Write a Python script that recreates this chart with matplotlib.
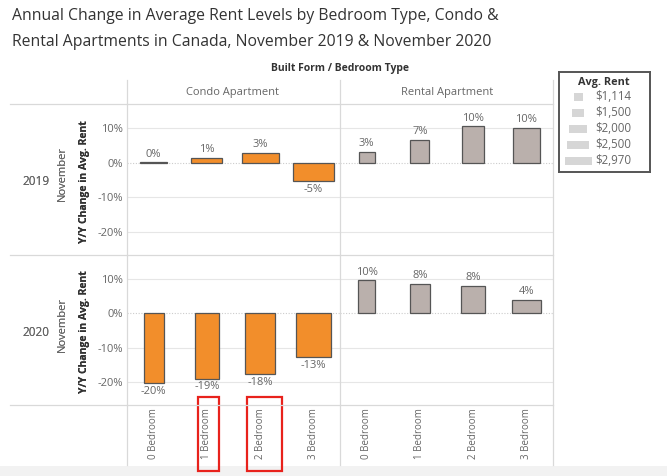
import matplotlib.pyplot as plt
from matplotlib.patches import Rectangle

plt.rcParams['font.family'] = ['Open Sans', 'DejaVu Sans']

# data
bedrooms = ["0 Bedroom", "1 Bedroom", "2 Bedroom", "3 Bedroom"]
built_forms = ["Condo Apartment", "Rental Apartment"]
years = ["2019", "2020"]

condo_2019 = [0.1, 1.3, 2.8, -5.4]
condo_2020 = [-20.4, -19.0, -17.8, -12.7]
rental_2019 = [3.2, 6.7, 10.5, 10.1]
rental_2020 = [9.6, 8.5, 7.9, 4.0]

rent_condo_2019 = [1930, 2230, 2670, 2970]
rent_condo_2020 = [1410, 1760, 2200, 2520]
rent_rental_2019 = [1114, 1340, 1610, 1930]
rent_rental_2020 = [1190, 1460, 1710, 2060]

legend_rents = [1114, 1500, 2000, 2500, 2970]
legend_labels = ["$1,114", "$1,500", "$2,000", "$2,500", "$2,970"]

yticks = [10, 0, -10, -20]

W, H = 667, 476
fig = plt.figure(figsize=(W / 100, H / 100), dpi=100)
fig.patch.set_facecolor("white")


def px_axes(x0, y0, x1, y1):
    return fig.add_axes([x0 / W, 1 - y1 / H, (x1 - x0) / W, (y1 - y0) / H])


def fx(x):
    return x / W


def fy(y):
    return 1 - y / H


def bar_width(rent):
    # Tableau size encoding, 16px..41px for $1,114..$2,970, panel cat = 53.25px
    px = 16 + (rent - 1114) / (2970 - 1114) * 25
    return px / 53.25


grid_c = "#e6e6e6"
line_c = "#d9d9d9"
text_c = "#666666"
orange = "#f28e2b"
grey = "#bab0ac"

# bottom strip
fig.add_artist(Rectangle((0, 0), 1, (H - 466) / H, transform=fig.transFigure,
                         facecolor="#f2f2f2", edgecolor="none", zorder=-10))

# title
fig.text(fx(12), fy(16), "Annual Change in Average Rent Levels by Bedroom Type, Condo &",
         fontsize=11.3, color="#333333", va="center")
fig.text(fx(12), fy(42), "Rental Apartments in Canada, November 2019 & November 2020",
         fontsize=11.3, color="#333333", va="center")

fig.text(fx(340), fy(69), "Built Form / Bedroom Type", fontsize=7.5, fontweight="bold",
         color="#333333", ha="center", va="center")
fig.text(fx(233), fy(93), built_forms[0], fontsize=8, color=text_c, ha="center", va="center")
fig.text(fx(447), fy(93), built_forms[1], fontsize=8, color=text_c, ha="center", va="center")

# frame lines
for y in [104, 255, 405]:
    fig.add_artist(plt.Line2D([fx(10), fx(553)], [fy(y), fy(y)], color=line_c, lw=0.9))
fig.add_artist(plt.Line2D([fx(127), fx(127)], [fy(80), fy(465)], color=line_c, lw=0.9))
fig.add_artist(plt.Line2D([fx(340), fx(340)], [fy(80), fy(465)], color=line_c, lw=0.9))
fig.add_artist(plt.Line2D([fx(553), fx(553)], [fy(80), fy(465)], color=line_c, lw=0.9))

panels = {
    (0, 0): (condo_2019, rent_condo_2019, orange),
    (0, 1): (rental_2019, rent_rental_2019, grey),
    (1, 0): (condo_2020, rent_condo_2020, orange),
    (1, 1): (rental_2020, rent_rental_2020, grey),
}
rows_px = [(104, 255), (255, 405)]
cols_px = [(127, 340), (340, 553)]

for (r, c), (vals, rents, color) in panels.items():
    y0, y1 = rows_px[r]
    x0, x1 = cols_px[c]
    ax = px_axes(x0, y0, x1, y1)
    ax.set_xlim(-0.5, 3.5)
    ax.set_ylim(-26.7, 17)
    ax.patch.set_alpha(0)
    for s in ax.spines.values():
        s.set_visible(False)
    for t in [10, -10, -20]:
        ax.axhline(t, color=grid_c, lw=0.8, zorder=0)
    ax.axhline(0, color="#cccccc", lw=0.8, ls=(0, (1, 1.5)), zorder=0)
    xs = range(len(vals))
    widths = [bar_width(v) for v in rents]
    ax.bar(xs, vals, width=widths, color=color, edgecolor="#555555", linewidth=0.9, zorder=2)
    for x, v in zip(xs, vals):
        lab = f"{round(v):.0f}%"
        if v >= 0:
            ax.annotate(lab, (x, v), xytext=(0, 2), textcoords="offset points",
                        ha="center", va="bottom", fontsize=8, color=text_c)
        else:
            ax.annotate(lab, (x, v), xytext=(0, -2), textcoords="offset points",
                        ha="center", va="top", fontsize=8, color=text_c)
    ax.set_xticks([])
    if c == 0:
        ax.set_yticks(yticks)
        ax.set_yticklabels([f"{t}%" for t in yticks], fontsize=8, color=text_c)
        ax.tick_params(axis="y", length=0, pad=3)
    else:
        ax.set_yticks([])

    yc = (y0 + y1) / 2 + 2
    fig.text(fx(22), fy(yc), years[r], fontsize=8.5, color=text_c, va="center")
    fig.text(fx(62), fy(yc - 8), "November", fontsize=8, color=text_c, rotation=90,
             ha="center", va="center")
    fig.text(fx(85), fy(yc), "Y/Y Change in Avg. Rent", fontsize=7.5, fontweight="bold",
             color="#333333", rotation=90, ha="center", va="center")

# bedroom labels
for c in range(2):
    x0, x1 = cols_px[c]
    for i, b in enumerate(bedrooms):
        xc = x0 + (i + 0.5) * (x1 - x0) / 4
        fig.text(fx(xc), fy(408), b, rotation=90, ha="center", va="top", fontsize=7,
                 color=text_c)

# red highlight boxes
for bx0, bx1 in [(198, 219), (247, 282)]:
    fig.add_artist(Rectangle((fx(bx0), fy(471)), (bx1 - bx0) / W, (471 - 397) / H,
                             transform=fig.transFigure, facecolor="none",
                             edgecolor="#e8221c", lw=1.6))

# size legend
axg = px_axes(559, 72, 650, 172)
axg.set_xlim(559, 650)
axg.set_ylim(172, 72)
axg.set_xticks([])
axg.set_yticks([])
for s in axg.spines.values():
    s.set_color("#555555")
    s.set_linewidth(1.4)
axg.text(604, 83, "Avg. Rent", ha="center", va="center", fontsize=7.8, fontweight="bold",
         color="#333333")
for i, (rv, lab) in enumerate(zip(legend_rents, legend_labels)):
    yy = 97 + i * 16
    w = 9 + (rv - 1114) / (2970 - 1114) * 18
    axg.add_patch(Rectangle((578 - w / 2, yy - 4), w, 8, facecolor="#d6d6d6", edgecolor="none"))
    axg.text(595, yy, lab, ha="left", va="center", fontsize=8.3, color=text_c)

fig.savefig("out.png", dpi=100)
